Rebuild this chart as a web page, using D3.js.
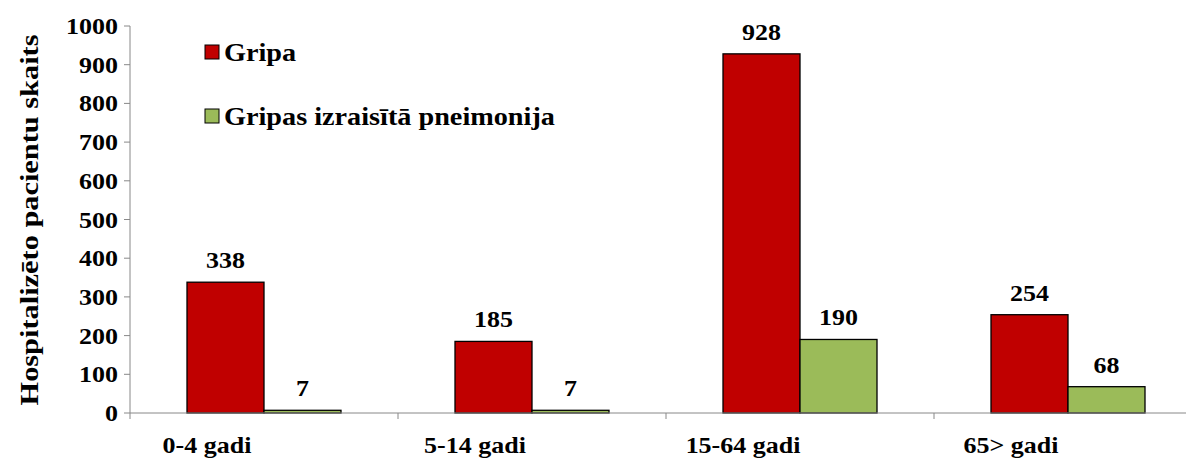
<!DOCTYPE html>
<html><head><meta charset="utf-8">
<script src="https://cdn.jsdelivr.net/npm/d3@7"></script>
<style>body{margin:0;background:#fff}text{font-family:"Liberation Serif","Times New Roman",serif;font-weight:bold}</style>
</head><body><svg id="c" width="1194" height="460"></svg>
<script>
const categories=["0-4 gadi","5-14 gadi","15-64 gadi","65> gadi"];
const gripa=[338,185,928,254];
const pneimonija=[7,7,190,68];
const seriesNames=["Gripa","Gripas izraisītā pneimonija"];
const colors=["#c00000","#9bbb59"];
const yTicks=[0,100,200,300,400,500,600,700,800,900,1000];

const svg=d3.select("#c");
const SX=1.13;
function txt(x,y,s,size,anchor){
  return svg.append("text").attr("transform",`translate(${x},${y}) scale(${SX},1)`)
    .attr("text-anchor",anchor||"middle").attr("font-size",size).text(s);
}
const x=d3.scaleBand().domain(categories).range([130,1202]);
const y=d3.scaleLinear().domain([0,1000]).range([413,26]);
const bw=77;
const series=[gripa,pneimonija];
series.forEach((vals,si)=>{
  categories.forEach((c,i)=>{
    const cx=x(c)+x.bandwidth()/2;
    const x0=cx-bw+si*bw;
    svg.append("rect").attr("x",x0).attr("y",y(vals[i])).attr("width",bw).attr("height",y(0)-y(vals[i]))
      .attr("fill",colors[si]).attr("stroke","#000").attr("stroke-width",1.3);
    txt(x0+bw/2,y(vals[i])-14,vals[i],23);
  });
});
svg.append("line").attr("x1",130).attr("x2",130).attr("y1",y(1000)).attr("y2",y(0)).attr("stroke","#888");
svg.append("line").attr("x1",130).attr("x2",1186).attr("y1",y(0)).attr("y2",y(0)).attr("stroke","#888");
yTicks.forEach(t=>{
  svg.append("line").attr("x1",124).attr("x2",130).attr("y1",y(t)).attr("y2",y(t)).attr("stroke","#888");
  txt(118,y(t)+8,t,23,"end");
});
categories.forEach((c,i)=>{
  svg.append("line").attr("x1",x(c)).attr("x2",x(c)).attr("y1",y(0)).attr("y2",y(0)+6).attr("stroke","#888");
  txt(x(c)+x.bandwidth()/2-57,453,c,23);
});
svg.append("text").attr("transform","translate(38,220) rotate(-90) scale(1.32,1.13)").attr("text-anchor","middle").attr("font-size",23).text("Hospitalizēto pacientu skaits");
seriesNames.forEach((n,i)=>{
  const ly=52+i*64;
  svg.append("rect").attr("x",205).attr("y",ly-7).attr("width",14).attr("height",14).attr("fill",colors[i]).attr("stroke","#000");
  txt(224,ly+9,n,25,"start");
});
</script></body></html>
